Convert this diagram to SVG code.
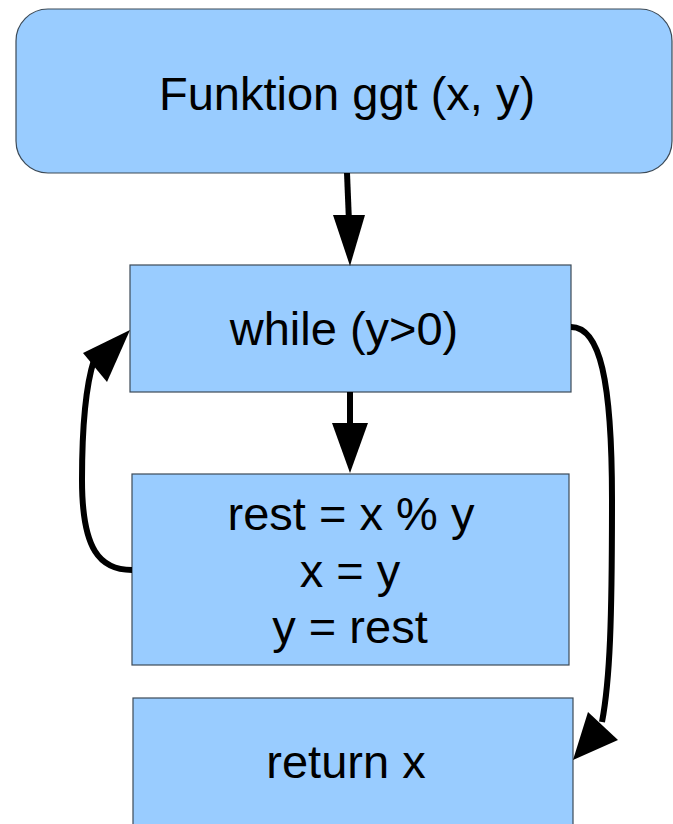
<svg xmlns="http://www.w3.org/2000/svg" width="673" height="824" viewBox="0 0 673 824">
<style>
.box{fill:#99ccff;stroke:#3c4a57;stroke-width:1.2}
.t{font-family:"Liberation Sans",Arial,sans-serif;font-size:47px;fill:#000;text-anchor:middle}
.c{fill:none;stroke:#000;stroke-width:6}
.h{fill:#000;stroke:none}
</style>
<rect width="673" height="824" fill="#fff"/>
<g id="node-start">
<rect class="box" x="16" y="9" width="656" height="164" rx="32" ry="32"/>
<text class="t" x="347" y="110">Funktion ggt (x, y)</text>
</g>
<g id="node-while">
<rect class="box" x="130" y="265" width="441" height="127"/>
<text class="t" x="344" y="345">while (y&gt;0)</text>
</g>
<g id="node-body">
<rect class="box" x="132" y="474" width="437" height="191"/>
<text class="t" x="351" y="530">rest = x % y</text>
<text class="t" x="350" y="587">x = y</text>
<text class="t" x="350" y="643">y = rest</text>
</g>
<g id="node-return">
<rect class="box" x="133" y="698" width="440" height="140"/>
<text class="t" x="346" y="778">return x</text>
</g>
<g id="connectors">
<path class="c" d="M347,173 L349,222"/>
<polygon class="h" points="333,215 365,215 350,266"/>
<path class="c" d="M350,392 L350,430"/>
<polygon class="h" points="332,423 368,423 350,473"/>
<path class="c" d="M132,570 C100,570 82,550 82,480 C82,420 86,385 94,360"/>
<polygon class="h" points="83,353 130,330 107,382"/>
<path class="c" d="M571,327 C600,327 612,380 612,500 C612,620 610,680 602,722"/>
<polygon class="h" points="588,712 618,740 573,760"/>
</g>
</svg>
